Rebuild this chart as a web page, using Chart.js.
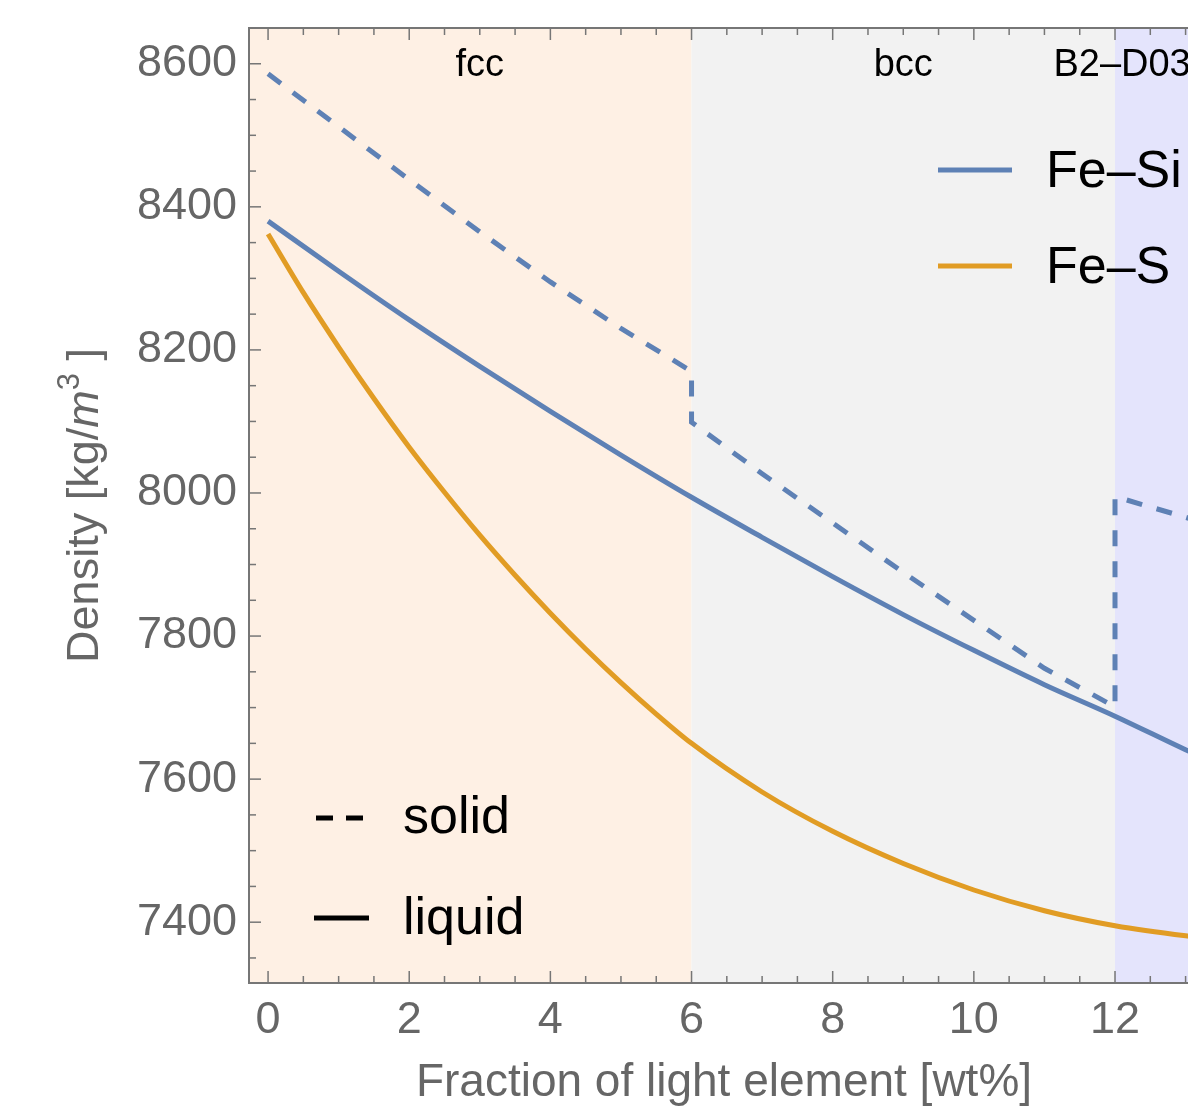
<!DOCTYPE html>
<html>
<head>
<meta charset="utf-8">
<script src="https://cdn.jsdelivr.net/npm/chart.js@4.4.1/dist/chart.umd.min.js"></script>
<style>
  html, body { margin: 0; padding: 0; overflow: hidden; background: #fff; }
  canvas { display: block; }
</style>
</head>
<body>
<canvas id="chart" width="1200" height="1112"></canvas>
<script>
// x = fraction of light element [wt%], y = density [kg/m^3]
var siLiquidX = [0, 1, 2, 3, 4, 5, 6, 7, 8, 9, 10, 11, 12, 13, 13.2];
var siLiquidY = [8380, 8310, 8242, 8177, 8114, 8053, 7994, 7938, 7883, 7830, 7780, 7732, 7688, 7641, 7632];

var sLiquidX = [0, 0.5, 1, 1.5, 2, 2.5, 3, 3.5, 4, 4.5, 5, 5.5, 6, 7, 8, 9, 10, 11, 12, 13, 13.2];
var sLiquidY = [8362, 8280, 8204, 8132, 8064, 8001, 7941, 7885, 7832, 7782, 7735, 7691, 7650, 7582, 7527, 7482, 7445, 7416, 7395, 7381, 7379];

// solid Fe-Si jumps at the phase boundaries (x = 6 and x = 12)
var siSolidX = [0, 1, 2, 3, 4, 5, 6, 6, 7, 8, 9, 10, 11, 12, 12, 13, 13.2];
var siSolidY = [8586, 8512, 8438, 8365, 8295, 8230, 8170, 8099, 8027, 7958, 7889, 7822, 7755, 7701, 7995, 7966, 7960];

var phaseNames = ["fcc", "bcc", "B2\u2013D03"];
var phaseFrom = [-1, 6, 12];
var phaseTo = [6, 12, 20];
var phaseLabelX = [3, 9, 12.1];

var seriesNames = ["Fe\u2013Si", "Fe\u2013S"];
var stateNames = ["solid", "liquid"];

var xMajorTicks = [0, 2, 4, 6, 8, 10, 12];
var yMajorTicks = [7400, 7600, 7800, 8000, 8200, 8400, 8600];

var BLUE = "#5e81b5";
var ORANGE = "#e19c24";
var AXIS = "#767676";
var LABEL = "#666666";
var FONT = "'Liberation Sans', Arial, sans-serif";
var phaseColors = ["#fef0e4", "#f2f2f2", "#e4e4fc"];

function points(xs, ys) {
  return xs.map(function (x, i) {
    return { x: x, y: ys[i] };
  });
}

function line(ctx, x0, y0, x1, y1) {
  ctx.beginPath();
  ctx.moveTo(x0, y0);
  ctx.lineTo(x1, y1);
  ctx.stroke();
}

var decorations = {
  id: "decorations",
  beforeDatasetsDraw: function (chart) {
    var ctx = chart.ctx, a = chart.chartArea, xs = chart.scales.x;
    ctx.save();
    for (var i = 0; i < phaseNames.length; i++) {
      var x0 = Math.max(a.left, xs.getPixelForValue(phaseFrom[i]));
      var x1 = Math.min(a.right, xs.getPixelForValue(phaseTo[i]));
      ctx.fillStyle = phaseColors[i];
      ctx.fillRect(x0, a.top, x1 - x0, a.bottom - a.top);
    }
    ctx.restore();
  },
  afterDatasetsDraw: function (chart) {
    var ctx = chart.ctx, a = chart.chartArea;
    var xs = chart.scales.x, ys = chart.scales.y;
    ctx.save();

    // phase labels
    ctx.fillStyle = "#000";
    ctx.font = "38px " + FONT;
    ctx.textAlign = "center";
    ctx.textBaseline = "alphabetic";
    for (var i = 0; i < phaseNames.length; i++) {
      ctx.fillText(phaseNames[i], xs.getPixelForValue(phaseLabelX[i]), a.top + 48);
    }

    // frame
    ctx.strokeStyle = AXIS;
    ctx.lineWidth = 2;
    ctx.beginPath();
    ctx.moveTo(a.right, a.top);
    ctx.lineTo(a.left, a.top);
    ctx.lineTo(a.left, a.bottom);
    ctx.lineTo(a.right, a.bottom);
    ctx.stroke();

    // inward tick marks
    ctx.lineWidth = 1.5;
    xs.ticks.forEach(function (t) {
      var px = xs.getPixelForValue(t.value);
      var len = xMajorTicks.indexOf(t.value) >= 0 ? 12 : 7;
      line(ctx, px, a.bottom, px, a.bottom - len);
      line(ctx, px, a.top, px, a.top + len);
    });
    ys.ticks.forEach(function (t) {
      var py = ys.getPixelForValue(t.value);
      var len = yMajorTicks.indexOf(t.value) >= 0 ? 12 : 7;
      line(ctx, a.left, py, a.left + len, py);
    });

    // series legend (top right)
    var seriesColors = [BLUE, ORANGE];
    ctx.lineWidth = 5;
    ctx.setLineDash([]);
    ctx.font = "52px " + FONT;
    ctx.textAlign = "left";
    ctx.fillStyle = "#000";
    for (var s = 0; s < seriesNames.length; s++) {
      var ly = a.top + 142 + s * 96;
      ctx.strokeStyle = seriesColors[s];
      line(ctx, a.left + 689, ly, a.left + 763, ly);
      ctx.fillText(seriesNames[s], a.left + 797, ly + 17);
    }

    // solid / liquid legend (bottom left)
    ctx.strokeStyle = "#000";
    var sy = a.top + 790;
    ctx.setLineDash([17, 13]);
    line(ctx, a.left + 67, sy, a.left + 115, sy);
    ctx.setLineDash([]);
    line(ctx, a.left + 65, sy + 100, a.left + 120, sy + 100);
    ctx.fillText(stateNames[0], a.left + 154, sy + 15);
    ctx.fillText(stateNames[1], a.left + 154, sy + 116);

    // x title
    ctx.fillStyle = LABEL;
    ctx.font = "46px " + FONT;
    ctx.textAlign = "center";
    ctx.fillText("Fraction of light element [wt%]", (a.left + a.right) / 2, a.bottom + 113);

    // y title with italic m and superscript 3
    var parts = [
      { t: "Density [kg/", f: "45px " + FONT, dy: 0 },
      { t: "m", f: "italic 45px " + FONT, dy: 0 },
      { t: "3", f: "31px " + FONT, dy: -19 },
      { t: " ]", f: "45px " + FONT, dy: 0 }
    ];
    ctx.translate(98, (a.top + a.bottom) / 2);
    ctx.rotate(-Math.PI / 2);
    ctx.textAlign = "left";
    var total = 0;
    parts.forEach(function (p) {
      ctx.font = p.f;
      p.w = ctx.measureText(p.t).width;
      total += p.w;
    });
    var cx = -total / 2;
    parts.forEach(function (p) {
      ctx.font = p.f;
      ctx.fillText(p.t, cx, p.dy);
      cx += p.w;
    });
    ctx.restore();
  }
};

var ctx = document.getElementById("chart");

var myChart = new Chart(ctx, {
  type: "line",
  data: {
    datasets: [
      {
        label: "Fe-Si solid",
        data: points(siSolidX, siSolidY),
        borderColor: BLUE,
        borderWidth: 5,
        borderDash: [16, 15],
        borderCapStyle: "butt",
        tension: 0,
        pointRadius: 0,
        fill: false
      },
      {
        label: "Fe-Si liquid",
        data: points(siLiquidX, siLiquidY),
        borderColor: BLUE,
        borderWidth: 5,
        cubicInterpolationMode: "monotone",
        pointRadius: 0,
        fill: false
      },
      {
        label: "Fe-S liquid",
        data: points(sLiquidX, sLiquidY),
        borderColor: ORANGE,
        borderWidth: 5,
        cubicInterpolationMode: "monotone",
        pointRadius: 0,
        fill: false
      }
    ]
  },
  options: {
    responsive: false,
    animation: false,
    devicePixelRatio: 1,
    layout: {
      padding: { top: 28, right: 1, left: 0, bottom: 0 }
    },
    plugins: {
      legend: { display: false },
      tooltip: { enabled: false }
    },
    scales: {
      x: {
        type: "linear",
        min: -0.27,
        max: 13.19,
        grid: { display: false, drawTicks: false },
        border: { display: false },
        afterBuildTicks: function (scale) {
          var t = [];
          for (var v = 0; v <= 13; v += 0.5) t.push({ value: v });
          scale.ticks = t;
        },
        afterFit: function (scale) {
          scale.height = 129;
          scale.paddingLeft = 0;
          scale.paddingRight = 0;
        },
        ticks: {
          autoSkip: false,
          maxRotation: 0,
          padding: 11,
          color: LABEL,
          font: { family: FONT, size: 45 },
          callback: function (value) {
            return xMajorTicks.indexOf(value) >= 0 ? String(value) : "";
          }
        }
      },
      y: {
        min: 7315,
        max: 8650,
        grid: { display: false, drawTicks: false },
        border: { display: false },
        afterBuildTicks: function (scale) {
          var t = [];
          for (var v = 7350; v <= 8650; v += 50) t.push({ value: v });
          scale.ticks = t;
        },
        afterFit: function (scale) {
          scale.width = 249;
          scale.paddingTop = 0;
          scale.paddingBottom = 0;
        },
        ticks: {
          autoSkip: false,
          padding: 12,
          color: LABEL,
          font: { family: FONT, size: 45 },
          callback: function (value) {
            return yMajorTicks.indexOf(value) >= 0 ? String(value) : "";
          }
        }
      }
    }
  },
  plugins: [decorations]
});
</script>
</body>
</html>
